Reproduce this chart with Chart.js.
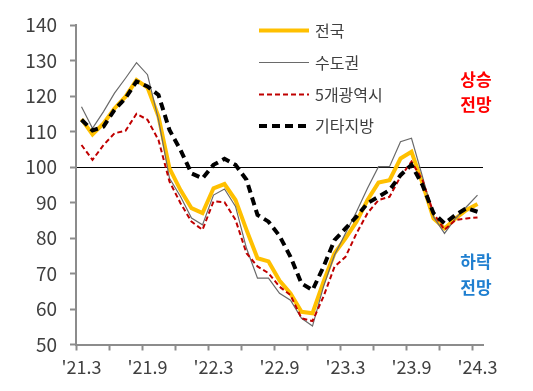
<!DOCTYPE html>
<html>
<head>
<meta charset="utf-8">
<script src="https://cdn.jsdelivr.net/npm/chart.js@4/dist/chart.umd.min.js"></script>
<style>
  html, body { margin: 0; padding: 0; background: #fff; }
  #wrap { width: 533px; height: 391px; position: relative; }
</style>
</head>
<body>
<div id="wrap"><canvas id="myChart"></canvas></div>
<script>
const months = ["'21.3","'21.4","'21.5","'21.6","'21.7","'21.8","'21.9","'21.10","'21.11","'21.12",
  "'22.1","'22.2","'22.3","'22.4","'22.5","'22.6","'22.7","'22.8","'22.9","'22.10","'22.11","'22.12",
  "'23.1","'23.2","'23.3","'23.4","'23.5","'23.6","'23.7","'23.8","'23.9","'23.10","'23.11","'23.12",
  "'24.1","'24.2","'24.3"];

// 전국
const national = [113.5,109.2,112.3,116.5,119.8,124.5,122.4,114.2,99.6,93.5,88.4,87,94,95.2,90.7,82.3,74.3,73.4,68,
  64.4,59.2,58.8,67.7,75.7,79.9,84.6,90.7,95.6,96.3,102.4,104.3,95.4,85.5,82.7,85.5,87.9,89.6];
// 수도권
const capital = [117,110.9,115.6,120.8,125,129.4,126,113.3,96.8,91.7,85.6,83.7,92.1,93.8,88.9,77.1,68.7,68.7,64.4,
  62.5,57.4,55.2,66.3,75.2,81.3,87.4,94,100.1,100.1,107.1,108.1,97.3,86,81.3,85.5,88.8,92.1];
// 5개광역시
const metro = [106.2,102,106.2,109.5,110.2,115,113.3,107.6,95.9,89.8,84.6,82.3,90.3,90.1,85.1,75.7,72,70.1,66.3,
  63.9,57.4,56.6,63.5,71.9,74.7,81.3,87,90.7,91.6,97.3,101.5,96.3,87,82.3,85.1,85.5,85.8];
// 기타지방
const other = [113.3,110.3,111.4,116.1,119.4,124.1,122.7,120.3,110.4,104.8,98.2,96.8,100.6,102.3,100.6,96.4,86.5,84.6,80.6,
  74.7,67.2,65.3,71.9,79.4,82.7,86,89.8,91.6,93.5,97.7,100.6,94.9,87,84.1,86.5,88.4,87.4];

const yTicks = [50,60,70,80,90,100,110,120,130,140];

const axisColor = '#8c8c8c';
const textColor = '#404040';
const fontFamily = "'Noto Sans CJK KR', 'Noto Sans', sans-serif";

// 범례와 상승/하락 전망 문구
const extraText = {
  id: 'extraText',
  afterDraw(chart) {
    const c = chart.ctx;
    c.save();
    const rows = [30.5, 62.5, 94.5, 126];
    chart.data.datasets.forEach((ds, i) => {
      const y = rows[i];
      c.beginPath();
      c.strokeStyle = ds.borderColor;
      c.lineWidth = ds.borderWidth;
      c.setLineDash(ds.borderDash || []);
      c.moveTo(259, y);
      c.lineTo(309, y);
      c.stroke();
      c.setLineDash([]);
      c.fillStyle = textColor;
      c.font = '16px ' + fontFamily;
      c.textBaseline = 'middle';
      c.textAlign = 'left';
      c.fillText(ds.label, 315, y);
    });
    c.font = 'bold 17px ' + fontFamily;
    c.textAlign = 'center';
    c.fillStyle = '#ff0000';
    c.fillText('상승', 476, 80);
    c.fillText('전망', 476, 105);
    c.fillStyle = '#1f7fd0';
    c.fillText('하락', 476, 262);
    c.fillText('전망', 476, 288);
    c.restore();
  }
};

const ctx = document.getElementById('myChart');

new Chart(ctx, {
  type: 'line',
  data: {
    labels: months,
    datasets: [
      { label: '전국', data: national, borderColor: '#ffc000', borderWidth: 4, order: 4 },
      { label: '수도권', data: capital, borderColor: '#6a6a6a', borderWidth: 1.2, order: 3 },
      { label: '5개광역시', data: metro, borderColor: '#c00000', borderWidth: 2, borderDash: [5, 3], order: 2 },
      { label: '기타지방', data: other, borderColor: '#000000', borderWidth: 4, borderDash: [8, 5], order: 1 }
    ]
  },
  options: {
    responsive: true,
    maintainAspectRatio: false,
    animation: false,
    layout: { padding: { top: 25, right: 50, left: 0, bottom: 0 } },
    elements: {
      point: { radius: 0 },
      line: { tension: 0, fill: false }
    },
    plugins: {
      legend: { display: false },
      tooltip: { enabled: false }
    },
    scales: {
      x: {
        offset: true,
        grid: {
          offset: true,
          drawOnChartArea: false,
          tickLength: 6,
          tickWidth: 2,
          tickColor: (c) => (c.index % 3 === 0 ? axisColor : 'rgba(0,0,0,0)')
        },
        border: { display: true, color: axisColor, width: 2 },
        ticks: {
          autoSkip: false,
          maxRotation: 0,
          color: textColor,
          font: { size: 18, family: fontFamily },
          padding: 6,
          callback: (v, i) => (i % 6 === 0 ? months[i] : '')
        },
        afterFit: (s) => { s.height = 46.5; }
      },
      y: {
        min: 50,
        max: 140,
        afterBuildTicks: (s) => { s.ticks = yTicks.map(v => ({ value: v })); },
        grid: {
          drawOnChartArea: true,
          color: (c) => (c.tick && c.tick.value === 100 ? '#000000' : 'rgba(0,0,0,0)'),
          lineWidth: 1,
          tickLength: 6,
          tickWidth: 2,
          tickColor: axisColor
        },
        border: { display: true, color: axisColor, width: 2 },
        ticks: {
          color: textColor,
          font: { size: 19, family: fontFamily },
          padding: 13
        },
        afterFit: (s) => { s.width = 76; }
      }
    }
  },
  plugins: [extraText]
});
</script>
</body>
</html>
